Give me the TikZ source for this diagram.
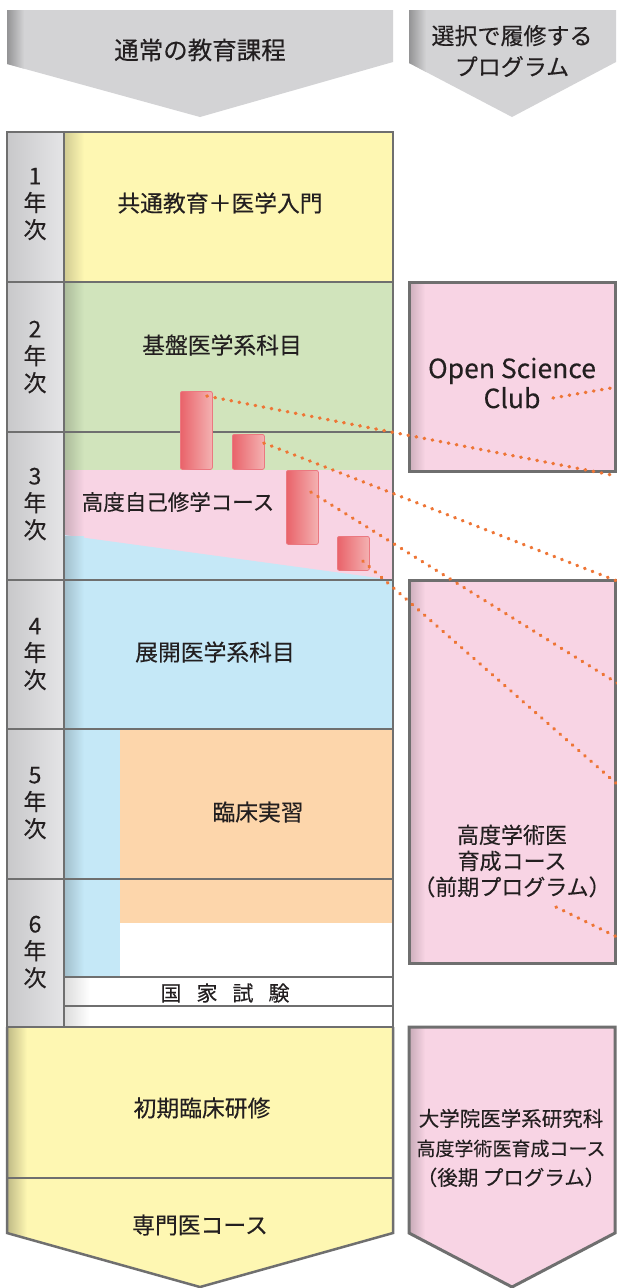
\documentclass[tikz,border=0pt]{standalone}
\usepackage{fontspec}
\setmainfont{Noto Sans CJK JP}[FakeBold=0.25]
\usetikzlibrary{calc}
\definecolor{yel}{HTML}{FEF7B2}
\definecolor{grn}{HTML}{D1E4BC}
\definecolor{pnk}{HTML}{F8D4E4}
\definecolor{blu}{HTML}{C5E8F7}
\definecolor{org}{HTML}{FDD6AB}
\definecolor{hdr}{HTML}{D3D3D5}
\definecolor{frm}{HTML}{6F6F6F}
\definecolor{dotc}{HTML}{EE7535}
\definecolor{txt}{HTML}{231F20}
\definecolor{cylL}{HTML}{E9636A}
\definecolor{cylR}{HTML}{F4B2B2}
\definecolor{cylB}{HTML}{EB7880}
\definecolor{ycL}{HTML}{C8C8CA}
\definecolor{ycR}{HTML}{E5E5E7}
\newcommand{\edgeshade}[5]{\shade[left color=#1!82!black, right color=#1] (#2,#3) rectangle (#4,#5);}
\begin{document}
\begin{tikzpicture}[x=1pt,y=-1pt,
  frame/.style={draw=frm, line width=2.5pt},
  rframe/.style={draw=frm, line width=3pt},
  lbl/.style={text=txt, font=\fontsize{22.8}{26}\selectfont, inner sep=0pt, align=center},
  rlbl/.style={text=txt, font=\fontsize{20.5}{29.5}\selectfont, inner sep=0pt, align=center},
  yr/.style={text=txt, font=\fontsize{23}{27}\selectfont, inner sep=0pt, align=center},
  cyl/.style={draw=cylB, line width=0.8pt, left color=cylL, right color=cylR, rounded corners=2pt, minimum width=32pt, inner sep=0pt, anchor=north west},
  dotline/.style={dotc, line width=3.4pt, line cap=round, dash pattern=on 0.6pt off 7.6pt},
]
\useasboundingbox (0,0) rectangle (616,1288);
\fill[white] (0,0) rectangle (616,1288);

% header arrows
\fill[hdr] (7,10) -- (393,10) -- (393,62) -- (200,117) -- (7,64) -- cycle;
\begin{scope}
\clip (7,10) -- (393,10) -- (393,62) -- (200,117) -- (7,64) -- cycle;
\shade[left color=hdr!70!black, right color=hdr] (7,10) rectangle (24,117);
\end{scope}
\fill[hdr] (409,10) -- (616,10) -- (616,62) -- (512,117) -- (409,63) -- cycle;
\begin{scope}
\clip (409,10) -- (616,10) -- (616,62) -- (512,117) -- (409,63) -- cycle;
\shade[left color=hdr!70!black, right color=hdr] (409,10) rectangle (426,117);
\end{scope}
\node[lbl, font=\fontsize{24.5}{26}\selectfont] (h1) at (200,50) {通常の教育課程};
\node[lbl, font=\fontsize{23}{31}\selectfont] (h2) at (512,51) {選択で履修する\\プログラム};

% year column
\shade[left color=ycL, right color=ycR] (7,132) rectangle (64,1027);

% year 1
\fill[yel] (64,132) rectangle (393,282);
\edgeshade{yel}{64}{132}{84}{282}
% year 2
\fill[grn] (64,282) rectangle (393,432);
\edgeshade{grn}{64}{282}{84}{432}
% year 3
\fill[grn] (64,432) rectangle (393,470);
\edgeshade{grn}{64}{432}{84}{470}
\fill[pnk] (64,470) rectangle (393,580);
\edgeshade{pnk}{64}{470}{84}{536}
\fill[blu] (64,535) -- (393,580) -- (64,580) -- cycle;
\edgeshade{blu}{64}{536}{84}{580}
% year 4
\fill[blu] (64,580) rectangle (393,729);
\edgeshade{blu}{64}{580}{84}{729}
% year 5
\fill[blu] (64,729) rectangle (120,879);
\edgeshade{blu}{64}{729}{84}{879}
\fill[org] (120,729) rectangle (393,879);
% year 6
\fill[blu] (64,879) rectangle (120,977);
\edgeshade{blu}{64}{879}{84}{977}
\fill[org] (120,879) rectangle (393,923);
\shade[left color=black!14, right color=white] (64,977) rectangle (90,1027);
% after graduation
\fill[yel] (7,1027) -- (393,1027) -- (393,1233) -- (200,1287) -- (7,1233) -- cycle;
\begin{scope}
\clip (7,1027) -- (393,1027) -- (393,1233) -- (200,1287) -- (7,1233) -- cycle;
\shade[left color=yel!75!black, right color=yel] (7,1027) rectangle (27,1287);
\end{scope}

% frame
\draw[frame] (7,132) rectangle (393,1027);
\foreach \yy in {282,432,580,729,879} \draw[frame] (7,\yy) -- (393,\yy);
\draw[frame] (64,132) -- (64,1027);
\draw[frame] (64,977) -- (393,977);
\draw[frame] (64,1006) -- (393,1006);
\draw[frame, line join=miter] (7,1027) -- (7,1233) -- (200,1287) -- (393,1233) -- (393,1027);
\draw[frame] (7,1178) -- (393,1178);

% year labels
\node[yr] (y1) at (35,204) {1\\年\\次};
\node[yr] (y2) at (35,357) {2\\年\\次};
\node[yr] (y3) at (35,504) {3\\年\\次};
\node[yr] (y4) at (35,654) {4\\年\\次};
\node[yr] (y5) at (35,803) {5\\年\\次};
\node[yr] (y6) at (35,952) {6\\年\\次};

% content labels
\node[lbl] (t1) at (220,203) {共通教育＋医学入門};
\node[lbl] (t2) at (222,345) {基盤医学系科目};
\node[lbl, font=\fontsize{21.5}{26}\selectfont] (t3) at (178,502) {高度自己修学コース};
\node[lbl] (t4) at (215,652) {展開医学系科目};
\node[lbl] (t5) at (258,812) {臨床実習};
\node[lbl, font=\fontsize{21}{24}\selectfont] (t6) at (225,993) {国\hspace{15pt}家\hspace{15pt}試\hspace{15pt}験};
\node[lbl] (t7) at (202,1108) {初期臨床研修};
\node[lbl] (t8) at (200,1225) {専門医コース};

% right boxes
\fill[pnk] (409,282) rectangle (615,471);
\edgeshade{pnk}{409}{282}{425}{471}
\draw[rframe] (409,282) rectangle (615,471);
\node[lbl, font=\fontsize{26.5}{30}\selectfont] (osc) at (512,383) {Open Science\\Club};

\fill[pnk] (409,580) rectangle (615,963);
\edgeshade{pnk}{409}{580}{425}{963}
\draw[rframe] (409,580) rectangle (615,963);
\node[lbl, font=\fontsize{22}{26}\selectfont] (pre) at (512,861) {高度学術医\\育成コース\\（前期プログラム）};

\fill[pnk] (409,1027) -- (615,1027) -- (615,1233) -- (512,1287) -- (409,1233) -- cycle;
\begin{scope}
\clip (409,1027) -- (615,1027) -- (615,1233) -- (512,1287) -- (409,1233) -- cycle;
\shade[left color=pnk!80!black, right color=pnk] (409,1027) rectangle (425,1287);
\end{scope}
\draw[rframe, line join=miter] (409,1027) -- (615,1027) -- (615,1233) -- (512,1287) -- (409,1233) -- cycle;
\node[rlbl] (post) at (511,1148) {大学院医学系研究科\\{\fontsize{19}{29.5}\selectfont 高度学術医育成コース}\\（後期 プログラム）};

% cylinders
\node[cyl, minimum height=78pt] (c1) at (180,391) {};
\node[cyl, minimum height=35pt] (c2) at (232,434) {};
\node[cyl, minimum height=74pt] (c3) at (286,470) {};
\node[cyl, minimum height=34pt] (c4) at (337,536) {};

% dotted connectors
\coordinate (s1) at ($(c1.north east)+(-6,5)$);
\coordinate (s2) at ($(c2.north east)+(-1,9)$);
\coordinate (s3) at ($(c3.north east)+(-8,22)$);
\coordinate (s4) at ($(c4.north east)+(-7,25)$);
\coordinate (s5) at (553,398);
\coordinate (s6) at (556,907);
\coordinate (e1) at (617,476);
\coordinate (e2) at (617,581);
\coordinate (e3) at (617,683);
\coordinate (e4) at (617,784);
\coordinate (e5) at (617,387);
\coordinate (e6) at (617,937);
\foreach \i in {1,...,6} \draw[dotline] (s\i) -- (e\i);
\end{tikzpicture}
\end{document}
